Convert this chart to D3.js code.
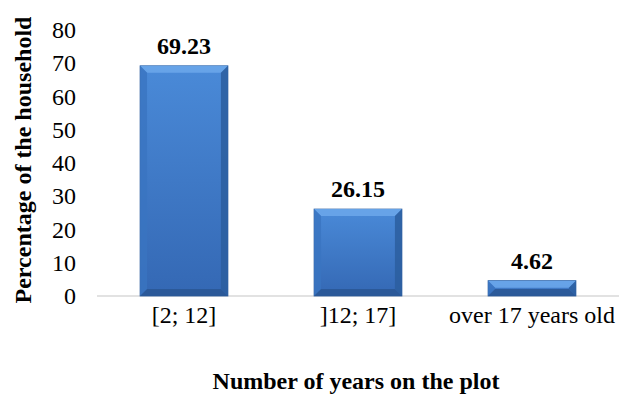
<!DOCTYPE html>
<html>
<head>
<meta charset="utf-8">
<script src="https://cdn.jsdelivr.net/npm/d3@7"></script>
<style>
  body { margin: 0; background: #fff; }
  text { font-family: "Liberation Serif", "Times New Roman", serif; fill: #000; }
</style>
</head>
<body>
<svg id="chart" width="620" height="400"></svg>
<script>
// data
const categories = ['[2; 12]', ']12; 17]', 'over 17 years old'];
const percentages = [69.23, 26.15, 4.62];
const yTicks = [0, 10, 20, 30, 40, 50, 60, 70, 80];

const svg = d3.select('svg#chart');

const x = d3.scaleBand()
  .domain(categories)
  .range([97, 619])
  .paddingInner(0.495)
  .paddingOuter(0.2475);

const y = d3.scaleLinear()
  .domain([0, 80])
  .range([296, 30]);

// gradient for bevelled bars
const defs = svg.append('defs');
const grad = defs.append('linearGradient')
  .attr('id', 'barGrad')
  .attr('x1', 0).attr('y1', 0).attr('x2', 0).attr('y2', 1);
grad.append('stop').attr('offset', '0%').attr('stop-color', '#4a8ad8');
grad.append('stop').attr('offset', '100%').attr('stop-color', '#3468b4');

// baseline
svg.append('line')
  .attr('x1', 97).attr('x2', 619)
  .attr('y1', y(0)).attr('y2', y(0))
  .attr('stroke', '#d9d9d9')
  .attr('stroke-width', 1.5);

// y axis labels, no axis line
const yAxis = svg.append('g')
  .attr('transform', 'translate(76,0)')
  .call(d3.axisLeft(y).tickValues(yTicks).tickSize(0).tickPadding(0));
yAxis.select('.domain').remove();
yAxis.selectAll('text')
  .attr('font-size', '24px')
  .attr('font-family', '"Liberation Serif", serif')
  .attr('fill', '#000');

// bars
const BEVEL = 7;
const bars = svg.selectAll('g.bar')
  .data(percentages)
  .enter()
  .append('g')
  .attr('class', 'bar');

bars.append('rect')
  .attr('x', (d, i) => x(categories[i]))
  .attr('y', (d) => y(d))
  .attr('width', x.bandwidth())
  .attr('height', (d) => y(0) - y(d))
  .attr('fill', 'url(#barGrad)')
  .attr('stroke', '#2e5e9e')
  .attr('stroke-width', 0.8);

// top bevel (lighter)
bars.append('path')
  .attr('d', (d, i) => {
    const x0 = x(categories[i]);
    const x1 = x0 + x.bandwidth();
    const t = y(d);
    const b = Math.min(BEVEL, (y(0) - t) / 2);
    return `M${x0},${t}L${x1},${t}L${x1 - b},${t + b}L${x0 + b},${t + b}Z`;
  })
  .attr('fill', '#6aa6ea')
  .attr('opacity', 0.9);

// left bevel
bars.append('path')
  .attr('d', (d, i) => {
    const x0 = x(categories[i]);
    const t = y(d);
    const bt = y(0);
    const b = Math.min(BEVEL, (bt - t) / 2);
    return `M${x0},${t}L${x0 + b},${t + b}L${x0 + b},${bt - b}L${x0},${bt}Z`;
  })
  .attr('fill', '#3a74c0')
  .attr('opacity', 0.8);

// right bevel (darker)
bars.append('path')
  .attr('d', (d, i) => {
    const x1 = x(categories[i]) + x.bandwidth();
    const t = y(d);
    const bt = y(0);
    const b = Math.min(BEVEL, (bt - t) / 2);
    return `M${x1},${t}L${x1 - b},${t + b}L${x1 - b},${bt - b}L${x1},${bt}Z`;
  })
  .attr('fill', '#2c5e9f')
  .attr('opacity', 0.85);

// bottom bevel (darkest)
bars.append('path')
  .attr('d', (d, i) => {
    const x0 = x(categories[i]);
    const x1 = x0 + x.bandwidth();
    const t = y(d);
    const bt = y(0);
    const b = Math.min(BEVEL, (bt - t) / 2);
    return `M${x0},${bt}L${x0 + b},${bt - b}L${x1 - b},${bt - b}L${x1},${bt}Z`;
  })
  .attr('fill', '#2a5896')
  .attr('opacity', 0.9);

// value labels
svg.selectAll('text.value')
  .data(percentages)
  .enter()
  .append('text')
  .attr('class', 'value')
  .attr('x', (d, i) => x(categories[i]) + x.bandwidth() / 2)
  .attr('y', (d) => y(d) - 12)
  .attr('text-anchor', 'middle')
  .attr('font-size', '24px')
  .attr('font-weight', 'bold')
  .text((d) => d.toFixed(2));

// category labels
svg.selectAll('text.cat')
  .data(categories)
  .enter()
  .append('text')
  .attr('class', 'cat')
  .attr('x', (d) => x(d) + x.bandwidth() / 2)
  .attr('y', 323)
  .attr('text-anchor', 'middle')
  .attr('font-size', '24px')
  .text((d) => d);

// axis titles
svg.append('text')
  .attr('x', 356)
  .attr('y', 389)
  .attr('text-anchor', 'middle')
  .attr('font-size', '24px')
  .attr('font-weight', 'bold')
  .text('Number of years on the plot');

svg.append('text')
  .attr('transform', 'translate(31,160) rotate(-90)')
  .attr('text-anchor', 'middle')
  .attr('font-size', '24px')
  .attr('font-weight', 'bold')
  .text('Percentage of the household');
</script>
</body>
</html>
